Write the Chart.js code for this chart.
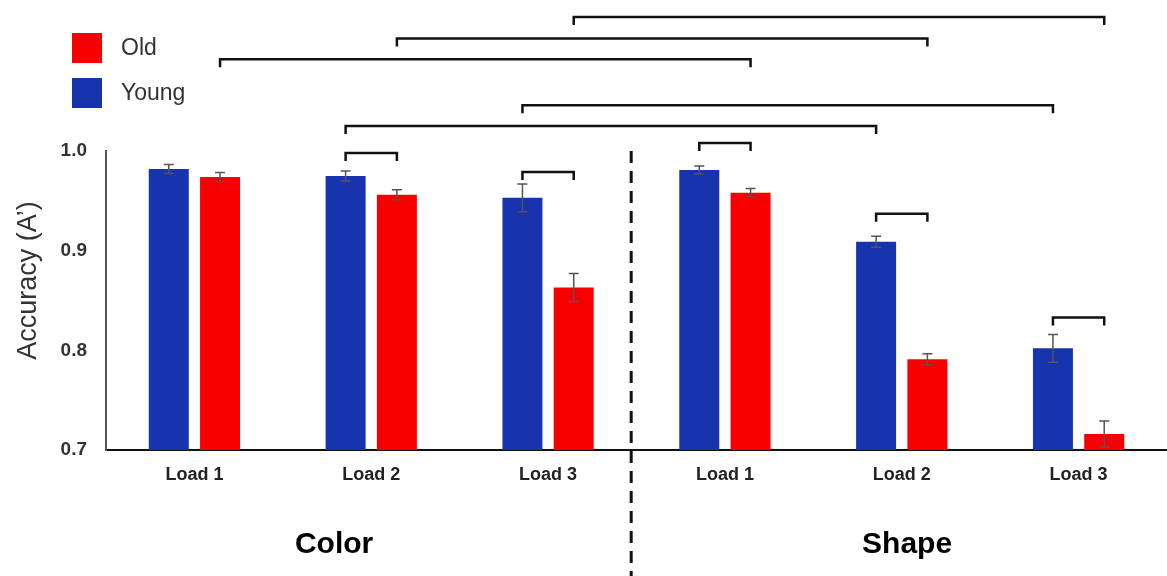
<!DOCTYPE html>
<html>
<head>
<meta charset="utf-8">
<script src="https://cdn.jsdelivr.net/npm/chart.js@4.4.0/dist/chart.umd.min.js"></script>
<style>
  html, body { margin: 0; padding: 0; background: #fff; }
  #wrap { width: 1167px; height: 576px; position: relative; }
</style>
</head>
<body>
<div id="wrap"><canvas id="accChart"></canvas></div>
<script>
// categories and groups
const categories = ['Load 1', 'Load 2', 'Load 3', 'Load 1', 'Load 2', 'Load 3'];
const groupNames = ['Color', 'Shape'];

// accuracy (A') and error bar half-lengths
const youngAcc = [0.982, 0.975, 0.953, 0.981, 0.909, 0.802];
const youngErr = [0.0045, 0.005, 0.014, 0.004, 0.0055, 0.014];
const oldAcc = [0.974, 0.956, 0.863, 0.958, 0.791, 0.716];
const oldErr = [0.0045, 0.005, 0.014, 0.0045, 0.0055, 0.013];

const yTicks = [0.7, 0.8, 0.9, 1.0];
const yTitle = 'Accuracy (A\u2019)';

// significance brackets: [datasetA, categoryA, datasetB, categoryB]  (0 = Young, 1 = Old)
const bracketPairs = [
  [1, 2, 1, 5], [1, 1, 1, 4], [1, 0, 1, 3],
  [0, 2, 0, 5], [0, 1, 0, 4],
  [0, 1, 1, 1], [0, 2, 1, 2], [0, 3, 1, 3], [0, 4, 1, 4], [0, 5, 1, 5]
];
// height of each bracket, in accuracy units
const bracketLevels = [1.1345, 1.113, 1.092, 1.046, 1.025, 0.998, 0.979, 1.008, 0.937, 0.833];

const errorBars = {
  id: 'errorBars',
  afterDatasetsDraw(chart) {
    const ctx = chart.ctx;
    const y = chart.scales.y;
    const errs = [youngErr, oldErr];
    ctx.save();
    ctx.strokeStyle = '#555';
    ctx.lineWidth = 1.5;
    chart.data.datasets.forEach((ds, di) => {
      chart.getDatasetMeta(di).data.forEach((bar, i) => {
        const v = ds.data[i], e = errs[di][i];
        const top = y.getPixelForValue(v + e);
        const bot = y.getPixelForValue(v - e);
        ctx.beginPath();
        ctx.moveTo(bar.x, top); ctx.lineTo(bar.x, bot);
        ctx.moveTo(bar.x - 5, top); ctx.lineTo(bar.x + 5, top);
        ctx.moveTo(bar.x - 5, bot); ctx.lineTo(bar.x + 5, bot);
        ctx.stroke();
      });
    });
    ctx.restore();
  }
};

const extras = {
  id: 'extras',
  afterDraw(chart) {
    const ctx = chart.ctx;
    const x = chart.scales.x, y = chart.scales.y;
    const area = chart.chartArea;
    ctx.save();

    // brackets
    ctx.strokeStyle = '#111';
    ctx.lineWidth = 2.5;
    bracketPairs.forEach((p, k) => {
      const x1 = chart.getDatasetMeta(p[0]).data[p[1]].x;
      const x2 = chart.getDatasetMeta(p[2]).data[p[3]].x;
      const yy = y.getPixelForValue(bracketLevels[k]);
      ctx.beginPath();
      ctx.moveTo(x1, yy + 8);
      ctx.lineTo(x1, yy);
      ctx.lineTo(x2, yy);
      ctx.lineTo(x2, yy + 8);
      ctx.stroke();
    });

    // dashed divider between Color and Shape
    const dx = x.getPixelForValue(2.47);
    ctx.setLineDash([12, 8]);
    ctx.lineWidth = 3;
    ctx.beginPath();
    ctx.moveTo(dx, area.top);
    ctx.lineTo(dx, chart.height);
    ctx.stroke();
    ctx.setLineDash([]);

    // group labels
    ctx.fillStyle = '#000';
    ctx.font = 'bold 30px "Liberation Sans", Arial, sans-serif';
    ctx.textAlign = 'center';
    ctx.textBaseline = 'middle';
    ctx.fillText(groupNames[0], x.getPixelForValue(0.79), 545);
    ctx.fillText(groupNames[1], x.getPixelForValue(4.03), 545);

    // y axis title, a little above the middle of the axis
    ctx.save();
    ctx.translate(29, y.getPixelForValue(0.87));
    ctx.rotate(-Math.PI / 2);
    ctx.fillStyle = '#333';
    ctx.font = '27px "Liberation Sans", Arial, sans-serif';
    ctx.fillText(yTitle, 0, 0);
    ctx.restore();

    // legend (Old listed first)
    ctx.font = '23px "Liberation Sans", Arial, sans-serif';
    ctx.textAlign = 'left';
    const items = chart.data.datasets.slice().reverse();
    items.forEach((ds, i) => {
      const top = 33 + i * 45;
      ctx.fillStyle = ds.backgroundColor;
      ctx.fillRect(72, top, 30, 30);
      ctx.fillStyle = '#333';
      ctx.fillText(ds.label, 121, top + 16);
    });
    ctx.restore();
  }
};

const ctx = document.getElementById('accChart').getContext('2d');
const accChart = new Chart(ctx, {
  type: 'bar',
  data: {
    labels: categories,
    datasets: [
      { label: 'Young', data: youngAcc, backgroundColor: '#1733AE' },
      { label: 'Old', data: oldAcc, backgroundColor: '#F90000' }
    ]
  },
  options: {
    responsive: true,
    maintainAspectRatio: false,
    animation: false,
    categoryPercentage: 0.58,
    barPercentage: 0.78,
    layout: { padding: { top: 151, right: 0, bottom: 0, left: 0 } },
    plugins: {
      legend: { display: false },
      tooltip: { enabled: false }
    },
    scales: {
      x: {
        grid: { display: false, drawTicks: false },
        border: { display: true, color: '#111', width: 2 },
        ticks: {
          color: '#222',
          padding: 14,
          font: { family: '"Liberation Sans", Arial, sans-serif', size: 18, weight: 'bold' }
        },
        afterFit(scale) { scale.height = 126; }
      },
      y: {
        min: 0.7,
        max: 1.0,
        grid: { display: false, drawTicks: false },
        border: { display: true, color: '#555', width: 2 },
        afterBuildTicks(scale) { scale.ticks = yTicks.map(v => ({ value: v })); },
        ticks: {
          color: '#333',
          padding: 19,
          callback: v => Number(v).toFixed(1),
          font: { family: '"Liberation Sans", Arial, sans-serif', size: 19, weight: 'bold' }
        },
        title: { display: false },
        afterFit(scale) { scale.width = 106; }
      }
    }
  },
  plugins: [errorBars, extras]
});
</script>
</body>
</html>
